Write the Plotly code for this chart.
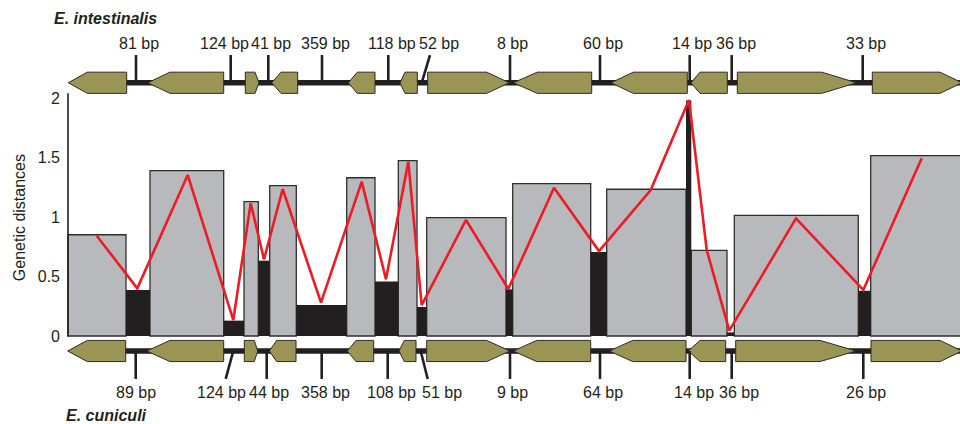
import plotly.graph_objects as go

# ---------------- data ----------------
# boundaries of the alternating gene / intergenic segments (genome position units)
segment_edges = [68, 126, 150, 223.7, 244, 258.3, 269.7, 296.3, 346.7, 375, 398.3,
                 417, 426.7, 506, 512.7, 590.7, 606.7, 686, 691.3, 727, 734.3,
                 858.3, 870.7, 975]
gene_distance = [0.851, 1.389, 1.129, 1.263, 1.33, 1.473, 0.994, 1.28, 1.233,
                 0.72, 1.014, 1.515]
spacer_distance = [0.387, 0.129, 0.633, 0.26, 0.457, 0.244, 0.392, 0.706, 1.98,
                   0.03, 0.38]

line_pos = [96.7, 137.3, 187.7, 233.3, 250.7, 264, 282.7, 321, 361.7, 386, 408.3,
            421.7, 466, 508.3, 554, 599, 650.7, 689, 706.7, 729.3, 796, 863.3, 921.7]
line_distance = [0.843, 0.40, 1.353, 0.134, 1.115, 0.644, 1.235, 0.28, 1.297, 0.476,
                 1.465, 0.26, 0.975, 0.395, 1.246, 0.714, 1.227, 1.983, 0.723, 0.045,
                 0.989, 0.387, 1.493]

# gene maps: start, end, strand, arrow-head length
top_gene_start = [68.3, 147.7, 245.3, 271.7, 348.3, 400, 427.7, 513.3, 611, 691, 737.3, 872.3]
top_gene_end = [126.7, 223.7, 259, 297.7, 375, 417.3, 509.3, 591.7, 687.3, 727.3, 856.7, 962]
top_gene_strand = [-1, -1, 1, -1, -1, -1, 1, -1, -1, -1, 1, 1]
top_gene_head = [19, 22.3, 4, 9.3, 9, 5, 22.6, 24, 22.3, 9, 35, 22]

bot_gene_start = [67.7, 146.7, 244.3, 269.3, 347.3, 399, 426.7, 513.3, 609.3, 688.3, 735.7, 871]
bot_gene_end = [125.7, 223.7, 257.7, 296, 373.7, 416, 510, 590.7, 686, 725.7, 856, 962]
bot_gene_strand = [-1, -1, 1, -1, -1, -1, 1, -1, -1, -1, 1, 1]
bot_gene_head = [19.6, 23.3, 3.4, 7.4, 8.7, 5.3, 23.3, 23.4, 23.4, 11.7, 36, 22]

top_spacer_labels = ["81 bp", "124 bp", "41 bp", "359 bp", "118 bp", "52 bp",
                     "8 bp", "60 bp", "14 bp", "36 bp", "33 bp"]
top_spacer_pos = [136, 230.7, 268.3, 322, 388.3, 421.7, 510, 600, 689.7, 731.7, 862.7]
top_spacer_tip = [136, 230.7, 268.3, 322, 388.3, 430, 510, 600, 689.7, 731.7, 862.7]
top_label_pos = [139, 224, 270.7, 325.7, 392, 439, 512.3, 603.3, 692.3, 735.7, 866]

bot_spacer_labels = ["89 bp", "124 bp", "44 bp", "358 bp", "108 bp", "51 bp",
                     "9 bp", "64 bp", "14 bp", "36 bp", "26 bp"]
bot_spacer_pos = [135.7, 233.3, 266.7, 321.7, 387.7, 420.7, 510, 600, 689.7, 731.7, 863.3]
bot_spacer_tip = [135.7, 225.7, 266.7, 321.7, 387.7, 427.7, 510, 600, 689.7, 731.7, 863.3]
bot_label_pos = [136, 221.7, 269.3, 325.7, 391.7, 441.7, 512.3, 602.7, 694.3, 739.3, 865.7]

y_ticks = [0, 0.5, 1, 1.5, 2]
y_tick_text = ["0", "0.5", "1", "1.5", "2"]

# ---------------- layout constants ----------------
FONT = "Liberation Sans, Arial, Helvetica, sans-serif"
TXT = "#231f20"
OLIVE = "#9a9554"
GREY = "#b8b9bd"
BLACK = "#231f20"
RED = "#ed1c24"

LEFT = 61  # left margin (px) == start of x range
TOP_Y = 2.128
BOT_Y = -0.126
HALF_H = 0.089
TOP_TICK_END = 2.361
BOT_TICK_END = -0.361
TOP_LABEL_Y = 2.462
BOT_LABEL_Y = -0.475

# ---------------- bars ----------------
gene_x, gene_w, sp_x, sp_w = [], [], [], []
for i in range(len(segment_edges) - 1):
    a, b = segment_edges[i], segment_edges[i + 1]
    if i % 2 == 0:
        gene_x.append((a + b) / 2); gene_w.append(b - a)
    else:
        sp_x.append((a + b) / 2); sp_w.append(b - a)

fig = go.Figure()
fig.add_trace(go.Bar(x=gene_x, y=gene_distance, width=gene_w,
                     marker=dict(color=GREY, line=dict(color="#2e2e2e", width=1.3)),
                     hoverinfo="skip", showlegend=False))
fig.add_trace(go.Bar(x=sp_x, y=spacer_distance, width=sp_w,
                     marker=dict(color=BLACK, line=dict(color=BLACK, width=0)),
                     hoverinfo="skip", showlegend=False))
fig.add_trace(go.Scatter(x=line_pos, y=line_distance, mode="lines",
                         line=dict(color=RED, width=2.6), hoverinfo="skip",
                         showlegend=False))

shapes = []


def gene_path(s, e, strand, head, yc):
    t, b = yc + HALF_H, yc - HALF_H
    if strand < 0:
        pts = [(s, yc), (s + head, t), (e, t), (e, b), (s + head, b)]
    else:
        pts = [(s, t), (e - head, t), (e, yc), (e - head, b), (s, b)]
    return "M " + " L ".join(f"{x},{y}" for x, y in pts) + " Z"


for yc in (TOP_Y, BOT_Y):
    shapes.append(dict(type="line", xref="x", yref="y", x0=80, x1=965, y0=yc, y1=yc,
                       line=dict(color=BLACK, width=5.5), layer="above"))

for starts, ends, strands, heads, yc in (
        (top_gene_start, top_gene_end, top_gene_strand, top_gene_head, TOP_Y),
        (bot_gene_start, bot_gene_end, bot_gene_strand, bot_gene_head, BOT_Y)):
    for s, e, st, h in zip(starts, ends, strands, heads):
        shapes.append(dict(type="path", xref="x", yref="y", path=gene_path(s, e, st, h, yc),
                           fillcolor=OLIVE, line=dict(color="#2b2b2b", width=1),
                           layer="above"))

for pos, tip in zip(top_spacer_pos, top_spacer_tip):
    shapes.append(dict(type="line", xref="x", yref="y", x0=pos, x1=tip,
                       y0=TOP_Y, y1=TOP_TICK_END, line=dict(color=BLACK, width=2.6)))
for pos, tip in zip(bot_spacer_pos, bot_spacer_tip):
    shapes.append(dict(type="line", xref="x", yref="y", x0=pos, x1=tip,
                       y0=BOT_Y, y1=BOT_TICK_END, line=dict(color=BLACK, width=2.6)))

# y axis line
shapes.append(dict(type="line", xref="x", yref="y", x0=68, x1=68, y0=-0.005, y1=2.04,
                   line=dict(color=BLACK, width=1.6)))

annotations = []
for lab, x in zip(top_spacer_labels, top_label_pos):
    annotations.append(dict(x=x, y=TOP_LABEL_Y, xref="x", yref="y", text=lab,
                            showarrow=False, font=dict(size=16, color=TXT, family=FONT)))
for lab, x in zip(bot_spacer_labels, bot_label_pos):
    annotations.append(dict(x=x, y=BOT_LABEL_Y, xref="x", yref="y", text=lab,
                            showarrow=False, font=dict(size=16, color=TXT, family=FONT)))

annotations.append(dict(x=(52 - LEFT) / (960 - LEFT), y=2.67, xref="paper", yref="y",
                        xanchor="left", text="<b><i>E. intestinalis</i></b>", showarrow=False,
                        font=dict(size=16, color=TXT, family=FONT)))
annotations.append(dict(x=64, y=-0.67, xref="x", yref="y", xanchor="left",
                        text="<b><i>E. cuniculi</i></b>", showarrow=False,
                        font=dict(size=16, color=TXT, family=FONT)))
annotations.append(dict(x=(19 - LEFT) / (960 - LEFT), y=0.99, xref="paper", yref="y",
                        xanchor="center", yanchor="middle", text="Genetic distances",
                        textangle=-90, showarrow=False,
                        font=dict(size=16, color=TXT, family=FONT)))

fig.update_layout(
    width=960, height=424,
    margin=dict(l=LEFT, r=0, t=0, b=0),
    paper_bgcolor="white", plot_bgcolor="white",
    barmode="overlay",
    xaxis=dict(range=[LEFT, 960], visible=False, fixedrange=True),
    yaxis=dict(range=[-0.7395, 2.8235], showgrid=False, zeroline=False, showline=False,
               tickvals=y_ticks, ticktext=y_tick_text, ticks="", ticklabelstandoff=0,
               tickfont=dict(size=16, color=TXT, family=FONT), fixedrange=True,
               automargin=False),
    shapes=shapes, annotations=annotations,
    showlegend=False,
)

fig.write_html("out.html", config={"displayModeBar": False, "staticPlot": True},
               post_script="document.body.style.margin='0';document.body.style.overflow='hidden';")
